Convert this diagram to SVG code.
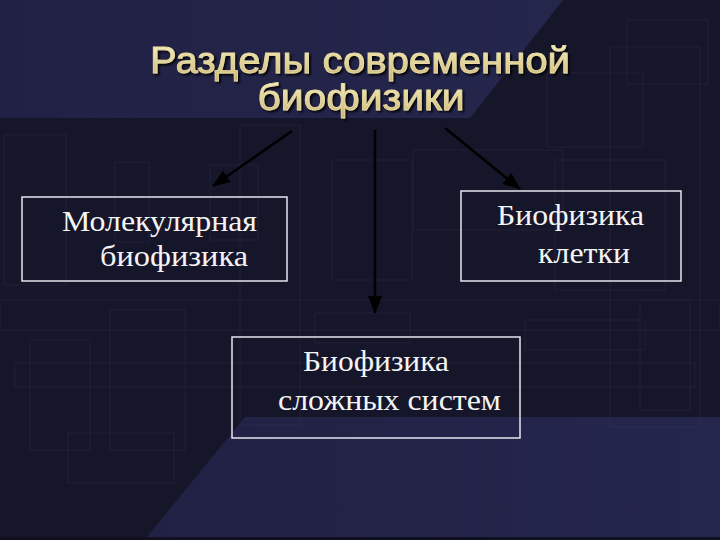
<svg xmlns="http://www.w3.org/2000/svg" width="720" height="540" viewBox="0 0 720 540">
  <defs>
    <linearGradient id="gold" x1="0" y1="0" x2="0" y2="1">
      <stop offset="0" stop-color="#fbf4c8"/>
      <stop offset="1" stop-color="#cdb573"/>
    </linearGradient>
    <linearGradient id="lite" x1="0" y1="0" x2="1" y2="0">
      <stop offset="0" stop-color="#212145"/>
      <stop offset="1" stop-color="#25264c"/>
    </linearGradient>
    <marker id="ah" viewBox="0 0 18 14" refX="17" refY="7" markerWidth="18" markerHeight="14" markerUnits="userSpaceOnUse" orient="auto">
      <path d="M0,0 L18,7 L0,14 Z" fill="#000"/>
    </marker>
    <filter id="sh" x="-5%" y="-20%" width="110%" height="140%">
      <feGaussianBlur in="SourceAlpha" stdDeviation="1.2"/>
      <feOffset dx="2" dy="2" result="b"/>
      <feFlood flood-color="#000" flood-opacity="0.85"/>
      <feComposite in2="b" operator="in"/>
      <feMerge><feMergeNode/><feMergeNode in="SourceGraphic"/></feMerge>
    </filter>
  </defs>
  <style>
    .bg { fill: none; stroke: #8c8cc0; stroke-opacity: 0.08; stroke-width: 1; }
    .box { fill: none; stroke: #e6e6f0; stroke-width: 1.5; }
    .lbl { font-family: "Liberation Sans", Arial, sans-serif; font-family: "Liberation Serif", "Times New Roman", serif; font-size: 30px; fill: #f4f4f4; }
    .title { font-family: "Liberation Sans", Arial, sans-serif; font-size: 37px; fill: url(#gold); stroke: #e8dca0; stroke-width: 0.8; }
    .conn { stroke: #000; stroke-width: 2.6; fill: none; marker-end: url(#ah); }
  </style>

  <!-- background -->
  <rect x="0" y="0" width="720" height="540" fill="#16162b"/>
  <polygon points="0,0 563,0 470,118 0,118" fill="url(#lite)"/>
  <polygon points="245,417 720,417 720,537 147,537" fill="url(#lite)"/>
  <rect x="0" y="537" width="720" height="3" fill="#101020"/>

  <g id="bg-rects">
    <rect class="bg" x="4" y="135" width="62" height="150"/>
    <rect class="bg" x="115" y="162" width="34" height="80"/>
    <rect class="bg" x="210" y="165" width="48" height="75"/>
    <rect class="bg" x="240" y="125" width="60" height="300"/>
    <rect class="bg" x="332" y="160" width="80" height="120"/>
    <rect class="bg" x="413" y="150" width="150" height="80"/>
    <rect class="bg" x="627" y="20" width="81" height="64"/>
    <rect class="bg" x="610" y="47" width="90" height="380"/>
    <rect class="bg" x="547" y="73" width="96" height="74"/>
    <rect class="bg" x="555" y="160" width="110" height="130"/>
    <rect class="bg" x="15" y="363" width="680" height="24"/>
    <rect class="bg" x="0" y="300" width="720" height="30"/>
    <rect class="bg" x="68" y="433" width="106" height="50"/>
    <rect class="bg" x="30" y="340" width="60" height="110"/>
    <rect class="bg" x="110" y="310" width="75" height="140"/>
    <rect class="bg" x="315" y="313" width="95" height="30"/>
    <rect class="bg" x="525" y="320" width="120" height="30"/>
    <rect class="bg" x="640" y="300" width="50" height="110"/>
  </g>

  <g id="title" filter="url(#sh)">
    <text class="title" x="360" y="73" text-anchor="middle" textLength="420" lengthAdjust="spacingAndGlyphs">Разделы современной</text>
    <text class="title" x="361" y="110" text-anchor="middle" textLength="207" lengthAdjust="spacingAndGlyphs">биофизики</text>
  </g>

  <g id="connectors">
    <line class="conn" x1="292" y1="131" x2="213" y2="186"/>
    <line class="conn" x1="375" y1="130" x2="375" y2="313"/>
    <line class="conn" x1="445" y1="128" x2="520" y2="189"/>
  </g>

  <g id="node-molecular">
    <rect class="box" x="22" y="197" width="265" height="84"/>
    <text class="lbl" x="62" y="231" textLength="195" lengthAdjust="spacingAndGlyphs">Молекулярная</text>
    <text class="lbl" x="100" y="266" textLength="148" lengthAdjust="spacingAndGlyphs">биофизика</text>
  </g>

  <g id="node-cell">
    <rect class="box" x="461" y="191" width="220" height="90"/>
    <text class="lbl" x="497" y="225" textLength="147" lengthAdjust="spacingAndGlyphs">Биофизика</text>
    <text class="lbl" x="538" y="263" textLength="92" lengthAdjust="spacingAndGlyphs">клетки</text>
  </g>

  <g id="node-complex">
    <rect class="box" x="232" y="337" width="288" height="101"/>
    <text class="lbl" x="303" y="371" textLength="146" lengthAdjust="spacingAndGlyphs">Биофизика</text>
    <text class="lbl" x="278" y="410" textLength="223" lengthAdjust="spacingAndGlyphs">сложных систем</text>
  </g>
</svg>
